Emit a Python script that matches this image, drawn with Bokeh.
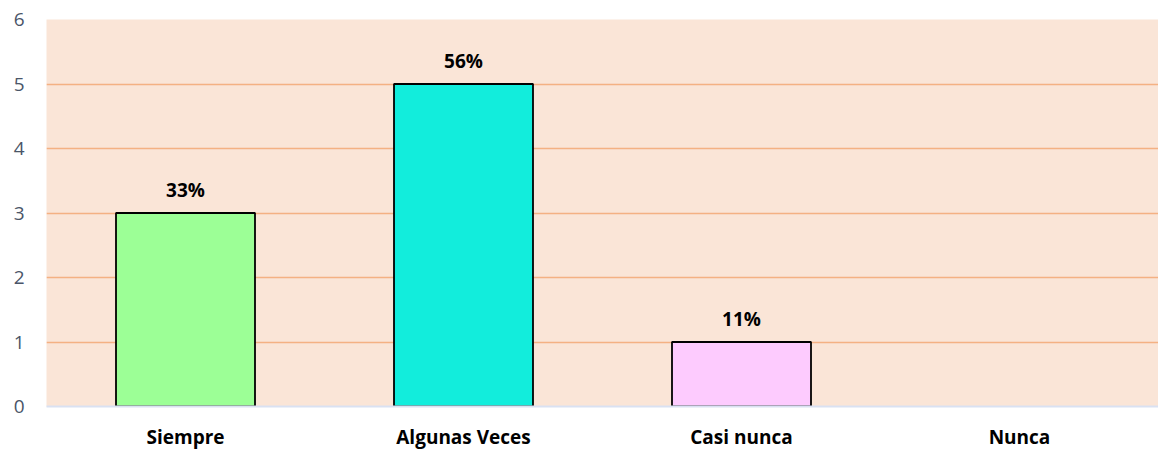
from bokeh.plotting import figure
from bokeh.models import ColumnDataSource, FixedTicker, Range1d, FactorRange
from bokeh.embed import file_html
from bokeh.resources import INLINE
from bokeh.core.properties import value

categories = ["Siempre", "Algunas Veces", "Casi nunca", "Nunca"]
counts = [3, 5, 1, 0]
pct_labels = ["33%", "56%", "11%", ""]
colors = ["#9CFF96", "#12EDDC", "#FDCBFE", "#FFFFFF"]
y_ticks = [0, 1, 2, 3, 4, 5, 6]

bar_src = ColumnDataSource(dict(
    cat=[c for c, v in zip(categories, counts) if v > 0],
    val=[v for v in counts if v > 0],
    lab=[l for l, v in zip(pct_labels, counts) if v > 0],
    col=[c for c, v in zip(colors, counts) if v > 0],
))

p = figure(width=1158, height=452, x_range=FactorRange(*categories, range_padding=0),
           y_range=Range1d(0, 6), output_backend="svg", toolbar_location=None,
           min_border_left=46, min_border_right=0, min_border_top=19, min_border_bottom=45)
p.background_fill_color = "#FAE5D7"
p.border_fill_color = "white"
p.outline_line_color = None

p.vbar(x="cat", top="val", width=0.5, source=bar_src, fill_color="col",
       line_color="black", line_width=1.8)
p.text(x="cat", y="val", text="lab", source=bar_src, text_align="center",
       text_baseline="alphabetic", y_offset=-23, text_font=value("Open Sans"),
       text_font_style="bold", text_font_size="19px", text_color="black")

p.xgrid.grid_line_color = None
p.ygrid.ticker = FixedTicker(ticks=[1, 2, 3, 4, 5, 6])
p.ygrid.grid_line_color = "#F4B183"
p.ygrid.grid_line_width = 1.5

p.yaxis.ticker = FixedTicker(ticks=y_ticks)
p.yaxis.axis_line_color = None
p.yaxis.major_tick_line_color = None
p.yaxis.minor_tick_line_color = None
p.yaxis.major_tick_out = 0
p.yaxis.major_tick_in = 0
p.yaxis.minor_tick_out = 0
p.yaxis.major_label_standoff = 22
p.yaxis.major_label_text_font = "Open Sans"
p.yaxis.major_label_text_font_size = "19px"
p.yaxis.major_label_text_color = "#4A5568"

p.xaxis.axis_line_color = "#D9E1F2"
p.xaxis.axis_line_width = 2
p.xaxis.major_tick_line_color = None
p.xaxis.minor_tick_line_color = None
p.xaxis.major_tick_out = 0
p.xaxis.major_tick_in = 0
p.xaxis.major_label_standoff = 17
p.xaxis.major_label_text_font = "Open Sans"
p.xaxis.major_label_text_font_style = "bold"
p.xaxis.major_label_text_font_size = "19px"
p.xaxis.major_label_text_color = "black"

open("out.html", "w").write(file_html(p, INLINE))
